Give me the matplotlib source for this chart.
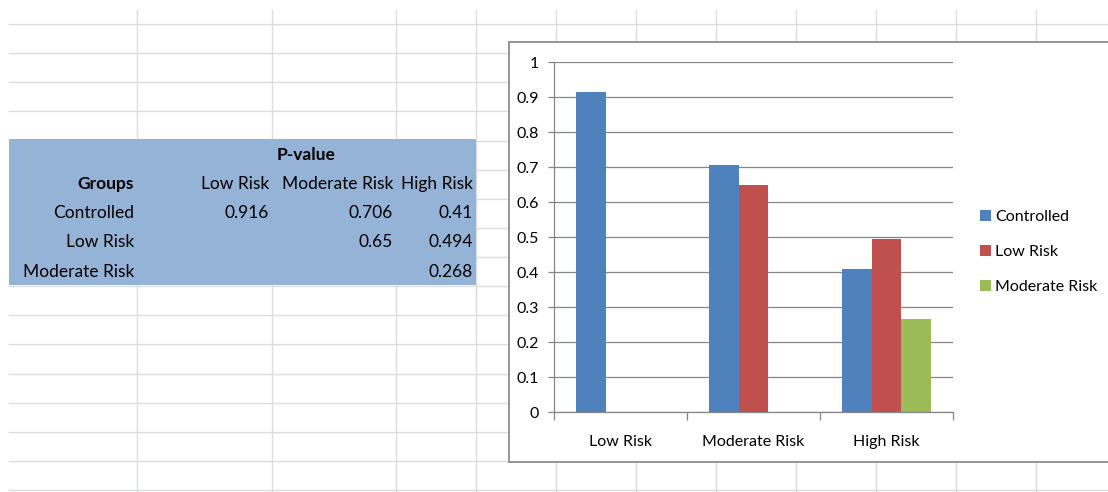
import numpy as np
import matplotlib
matplotlib.use('Agg')
import matplotlib.pyplot as plt
from matplotlib.patches import Rectangle

plt.rcParams['font.family'] = ['Lato', 'DejaVu Sans']

# ---------------- data ----------------
categories = ['Low Risk', 'Moderate Risk', 'High Risk']
series_names = ['Controlled', 'Low Risk', 'Moderate Risk']
controlled = [0.916, 0.706, 0.41]
low_risk = [np.nan, 0.65, 0.494]
moderate_risk = [np.nan, np.nan, 0.268]
colors = ['#4F81BD', '#C0504D', '#9BBB59']
yticks = [0, 0.1, 0.2, 0.3, 0.4, 0.5, 0.6, 0.7, 0.8, 0.9, 1]

table_title = 'P-value'
table_corner = 'Groups'

series = [controlled, low_risk, moderate_risk]

# ---------------- figure / background sheet ----------------
W, H = 1108, 492
fig = plt.figure(figsize=(W / 100, H / 100), dpi=100)
bg = fig.add_axes([0, 0, 1, 1])
bg.set_xlim(0, W)
bg.set_ylim(H, 0)
bg.axis('off')

grid_color = '#DADCDD'
col_x = [137, 272, 396, 476, 556, 636, 716, 796, 876, 956, 1036]
row_h = 29.125
row_y = [24 + row_h * k for k in range(17)]
for xv in col_x:
    bg.plot([xv, xv], [10, H], color=grid_color, lw=1.0, zorder=1)
for yv in row_y:
    bg.plot([9, W], [yv, yv], color=grid_color, lw=1.0, zorder=1)

# table block
tab_left, tab_top = 9, 139
tab_right = 476
bg.add_patch(Rectangle((tab_left, tab_top), tab_right - tab_left, 5 * row_h,
                       facecolor='#95B3D7', edgecolor='none', zorder=2))
col_right = [134, 269, 393, 473]
tfs = 12.5
def row_c(i):
    return tab_top + row_h * (i + 0.5) + 1.5
bg.text((137 + 476) / 2, row_c(0), table_title, ha='center', va='center',
        fontsize=tfs, fontweight='bold', zorder=3)
bg.text(col_right[0], row_c(1), table_corner, ha='right', va='center',
        fontsize=tfs, fontweight='bold', zorder=3)
for j, c in enumerate(categories):
    bg.text(col_right[j + 1], row_c(1), c, ha='right', va='center', fontsize=tfs, zorder=3)
for i, (name, vals) in enumerate(zip(series_names, series)):
    bg.text(col_right[0], row_c(2 + i), name, ha='right', va='center', fontsize=tfs, zorder=3)
    for j, v in enumerate(vals):
        if not np.isnan(v):
            bg.text(col_right[j + 1], row_c(2 + i), '{:g}'.format(v), ha='right',
                    va='center', fontsize=tfs, zorder=3)

# chart frame
bg.add_patch(Rectangle((509, 42), 700, 419.5, facecolor='white',
                       edgecolor='#8C8C8C', lw=1.3, zorder=4))

# ---------------- chart ----------------
ax = fig.add_axes([554 / W, 1 - 412.3 / H, (953 - 554) / W, 350 / H])
ax.set_facecolor('none')
x = np.arange(len(categories))
n = len(series)
w = 1 / (n + 1.5)
for i, (vals, name, c) in enumerate(zip(series, series_names, colors)):
    ax.bar(x + (i - (n - 1) / 2) * w, vals, w, color=c, label=name, linewidth=0, zorder=2)

axis_gray = '#868686'
ax.set_xlim(-0.5, len(categories) - 0.5)
ax.set_ylim(0, 1)
ax.set_yticks(yticks)
ax.set_yticklabels(['{:g}'.format(v) for v in yticks])
ax.yaxis.grid(True, color=axis_gray, lw=0.9)
ax.set_axisbelow(True)
ax.set_xticks(np.arange(len(categories) + 1) - 0.5)
ax.set_xticklabels([])
ax.set_xticks(x, minor=True)
ax.set_xticklabels(categories, minor=True)
cfs = 11.5
ax.tick_params(axis='x', which='major', length=6, color=axis_gray, width=0.9, direction='out')
ax.tick_params(axis='x', which='minor', length=0, pad=16, labelsize=cfs)
ax.tick_params(axis='y', length=4, color=axis_gray, width=0.9, pad=7, labelsize=cfs)
for s in ['top', 'right']:
    ax.spines[s].set_visible(False)
for s in ['left', 'bottom']:
    ax.spines[s].set_color(axis_gray)
    ax.spines[s].set_linewidth(0.9)

ax.legend(loc='center left', bbox_to_anchor=(980 / W, 1 - 252 / H),
          bbox_transform=fig.transFigure, frameon=False, fontsize=cfs,
          handlelength=0.68, handleheight=0.68, handletextpad=0.25,
          labelspacing=1.33, borderpad=0, borderaxespad=0)

fig.savefig('out.png', dpi=100)
